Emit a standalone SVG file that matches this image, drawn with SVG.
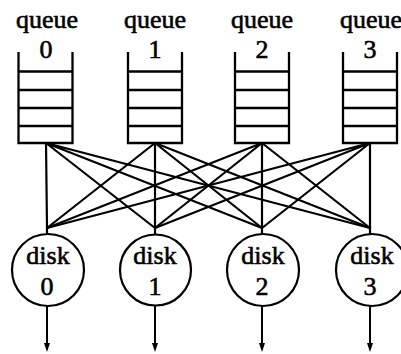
<svg xmlns="http://www.w3.org/2000/svg" width="401" height="354" viewBox="0 0 401 354">
  <style>
    .lbl { font-family: "Liberation Serif", "Times New Roman", serif; font-size: 26px; fill: #000; stroke: #000; stroke-width: 0.6; text-anchor: middle; }
    .q { fill: none; stroke: #000; stroke-width: 2.3; }
    .disk { fill: #fff; stroke: #000; stroke-width: 2.2; }
    .wire { stroke: #000; stroke-width: 2.2; fill: none; }
    .out { stroke: #000; stroke-width: 2; fill: none; marker-end: url(#arrow); }
  </style>
  <defs>
    <marker id="arrow" viewBox="0 0 9 6" refX="0" refY="3" markerWidth="9" markerHeight="6" markerUnits="userSpaceOnUse" orient="auto">
      <path d="M0,0 L9,3 L0,6 Z" fill="#000"/>
    </marker>
  </defs>
  <rect width="401" height="354" fill="#fff"/>

  <!-- queue to disk wiring: every queue feeds every disk -->
  <g id="connectors">
    <path class="wire" d="M46,143 L47,228 M46,143 L155,228 M46,143 L262,228 M46,143 L370,228"/>
    <path class="wire" d="M155,143 L47,228 M155,143 L155,228 M155,143 L262,228 M155,143 L370,228"/>
    <path class="wire" d="M262,143 L47,228 M262,143 L155,228 M262,143 L262,228 M262,143 L370,228"/>
    <path class="wire" d="M370,143 L47,228 M370,143 L155,228 M370,143 L262,228 M370,143 L370,228"/>
    <path class="wire" d="M47,227 V235 M155,227 V235 M262,227 V235 M370,227 V235"/>
    <path class="out" d="M47,306 V343"/>
    <path class="out" d="M155,306 V343"/>
    <path class="out" d="M262,306 V343"/>
    <path class="out" d="M370,306 V343"/>
  </g>

  <!-- queues: open-topped stacks of slots -->
  <g id="queue0">
    <text class="lbl" x="47" y="28">queue</text>
    <text class="lbl" x="46" y="58">0</text>
    <path class="q" d="M18.5,52 V143 H72.5 V52 M18.5,71.5 H72.5 M18.5,90 H72.5 M18.5,108 H72.5 M18.5,126 H72.5"/>
  </g>
  <g id="queue1">
    <text class="lbl" x="155" y="28">queue</text>
    <text class="lbl" x="155" y="58">1</text>
    <path class="q" d="M128,52 V143 H182 V52 M128,71.5 H182 M128,90 H182 M128,108 H182 M128,126 H182"/>
  </g>
  <g id="queue2">
    <text class="lbl" x="262" y="28">queue</text>
    <text class="lbl" x="262" y="58">2</text>
    <path class="q" d="M235,52 V143 H289 V52 M235,71.5 H289 M235,90 H289 M235,108 H289 M235,126 H289"/>
  </g>
  <g id="queue3">
    <text class="lbl" x="371" y="28">queue</text>
    <text class="lbl" x="370" y="58">3</text>
    <path class="q" d="M343,52 V143 H397 V52 M343,71.5 H397 M343,90 H397 M343,108 H397 M343,126 H397"/>
  </g>

  <!-- disks -->
  <g id="disk0">
    <circle class="disk" cx="48" cy="270" r="36"/>
    <text class="lbl" x="48" y="264">disk</text>
    <text class="lbl" x="47" y="295">0</text>
  </g>
  <g id="disk1">
    <circle class="disk" cx="155.5" cy="270" r="35.5"/>
    <text class="lbl" x="155" y="264">disk</text>
    <text class="lbl" x="155" y="295">1</text>
  </g>
  <g id="disk2">
    <circle class="disk" cx="263" cy="270" r="36"/>
    <text class="lbl" x="263" y="264">disk</text>
    <text class="lbl" x="262" y="295">2</text>
  </g>
  <g id="disk3">
    <circle class="disk" cx="372" cy="270" r="36"/>
    <text class="lbl" x="372" y="264">disk</text>
    <text class="lbl" x="370" y="295">3</text>
  </g>
</svg>
